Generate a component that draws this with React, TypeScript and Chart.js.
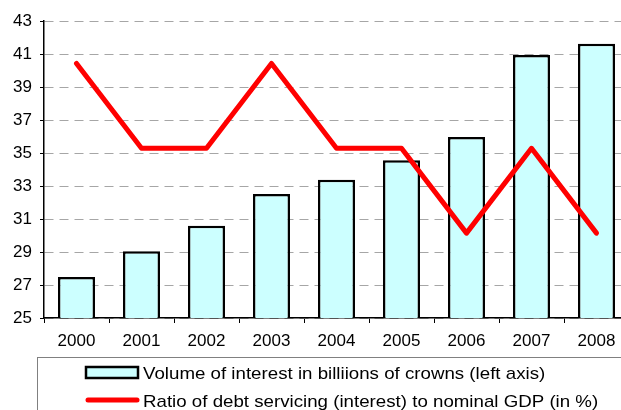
import React, { useEffect, useRef } from "react";
import { Chart, registerables } from "chart.js";

Chart.register(...registerables);

const years = ["2000", "2001", "2002", "2003", "2004", "2005", "2006", "2007", "2008"];
const interestVolume = [27.48, 29.05, 30.59, 32.52, 33.38, 34.56, 35.97, 40.94, 41.62];
const debtServiceRatio = [1.8, 1.7, 1.7, 1.8, 1.7, 1.7, 1.6, 1.7, 1.6];
const barLabel = "Volume of interest in billiions of crowns (left axis)";
const lineLabel = "Ratio of debt servicing (interest) to nominal GDP (in %)";

const FONT = "Liberation Sans, Arial, sans-serif";
const CANVAS_W = 660;
const CANVAS_H = 410;

const legendPlugin = {
  id: "boxLegend",
  afterDraw(chart: any) {
    const ctx = chart.ctx;
    const ds = chart.data.datasets;
    const barDs = ds.find((d: any) => d.type === "bar");
    const lineDs = ds.find((d: any) => d.type === "line");
    ctx.save();
    ctx.strokeStyle = "#808080";
    ctx.lineWidth = 1;
    ctx.strokeRect(37.5, 357.5, 700, 100);
    // bar swatch
    ctx.fillStyle = "#ccffff";
    ctx.fillRect(86, 367, 52, 11);
    ctx.strokeStyle = "#000";
    ctx.lineWidth = 2.5;
    ctx.strokeRect(86, 367, 52, 11);
    // line swatch
    ctx.strokeStyle = "#ff0000";
    ctx.lineWidth = 5;
    ctx.lineCap = "round";
    ctx.beginPath();
    ctx.moveTo(88, 400);
    ctx.lineTo(137, 400);
    ctx.stroke();
    ctx.fillStyle = "#000";
    ctx.font = `17px ${FONT}`;
    ctx.textBaseline = "alphabetic";
    ctx.textAlign = "left";
    ctx.translate(143, 0);
    ctx.scale(1.1, 1);
    ctx.fillText(barDs.label, 0, 378.5);
    ctx.fillText(lineDs.label, 0, 407);
    ctx.restore();
  },
};

export default function App() {
  const ref = useRef<HTMLCanvasElement>(null);
  useEffect(() => {
    const canvas = ref.current!;
    const chart = new Chart(canvas, {
      type: "bar",
      data: {
        labels: years,
        datasets: [
          {
            type: "line",
            label: lineLabel,
            data: debtServiceRatio,
            yAxisID: "y1",
            borderColor: "#ff0000",
            borderWidth: 5,
            pointRadius: 0,
            tension: 0,
            borderCapStyle: "round",
            borderJoinStyle: "round",
            order: 0,
          } as any,
          {
            type: "bar",
            label: barLabel,
            data: interestVolume,
            yAxisID: "y",
            backgroundColor: "#ccffff",
            borderColor: "#000000",
            borderWidth: 2.5,
            borderSkipped: false,
            barPercentage: 0.57,
            categoryPercentage: 1,
            order: 1,
          } as any,
        ],
      },
      options: {
        animation: false,
        responsive: false,
        devicePixelRatio: 1,
        layout: { padding: { left: 0, top: 21, right: CANVAS_W - 629, bottom: 0 } },
        plugins: { legend: { display: false }, tooltip: { enabled: false } },
        scales: {
          x: {
            afterFit: (s: any) => {
              s.height = 92;
            },
            grid: {
              drawOnChartArea: false,
              drawTicks: true,
              tickLength: 5,
              tickColor: "#000",
              tickWidth: 1,
            },
            border: { display: true, color: "#000", width: 1.5 },
            ticks: { color: "#000", font: { family: FONT, size: 17 }, padding: 8, maxRotation: 0 },
          },
          y: {
            position: "left",
            min: 25,
            max: 43,
            afterFit: (s: any) => {
              s.width = 44;
            },
            grid: {
              color: "#a6a6a6",
              lineWidth: 1,
              drawTicks: true,
              tickLength: 4,
              tickColor: "#000",
              tickWidth: 1,
              tickBorderDash: [],
            },
            border: { display: true, color: "#000", width: 1.5, dash: [9, 6] },
            ticks: { stepSize: 2, color: "#000", font: { family: FONT, size: 17 }, padding: 8 },
          },
          y1: {
            display: false,
            min: 1.5,
            max: 1.85,
          },
        },
      },
      plugins: [legendPlugin],
    });
    return () => chart.destroy();
  }, []);
  return (
    <div style={{ position: "fixed", left: 0, top: 0, width: 621, height: 410, overflow: "hidden", background: "#fff" }}>
      <canvas ref={ref} width={CANVAS_W} height={CANVAS_H} style={{ display: "block" }} />
    </div>
  );
}
